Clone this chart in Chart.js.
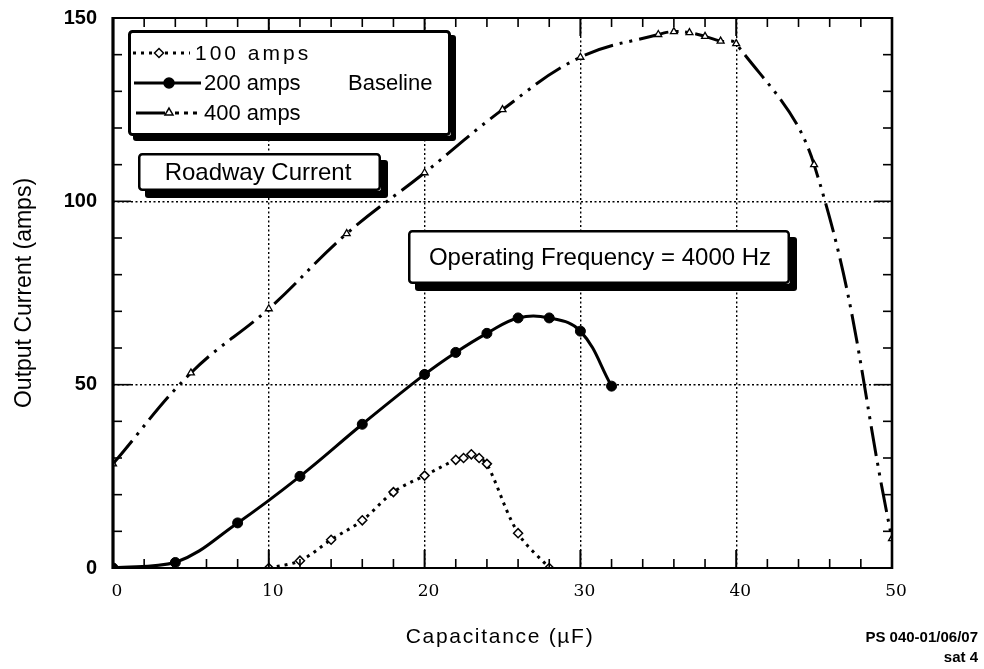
<!DOCTYPE html>
<html><head><meta charset="utf-8">
<script src="https://cdn.jsdelivr.net/npm/chart.js@4.4.1/dist/chart.umd.min.js"></script>
<style>html,body{margin:0;padding:0;background:#fff;}#wrap{width:984px;height:669px;position:relative;}</style>
</head><body><div id="wrap"><canvas id="c" width="984" height="669"></canvas></div>
<script>
// ---- data ----
const capacitance100 = [10, 12, 14, 16, 18, 20, 22, 22.5, 23, 23.5, 24, 26, 28];
const current100     = [0, 2, 7.7, 13, 20.7, 25.2, 29.5, 30, 31, 30, 28.4, 9.5, 0];
const capacitance200 = [0, 4, 8, 12, 16, 20, 22, 24, 26, 28, 30, 32];
const current200     = [0, 1.5, 12.3, 25, 39.2, 52.8, 58.8, 64, 68.2, 68.2, 64.6, 49.6];
const capacitance400 = [0, 5, 10, 15, 20, 25, 30, 35, 36, 37, 38, 39, 40, 45, 50];
const current400     = [28.4, 53.2, 70.7, 91.2, 107.8, 125, 139.3, 145.5, 146.3, 146, 145, 143.7, 143, 110, 8];
const seriesNames = ['100 amps', '200 amps', '400 amps'];
const xTickValues = [0, 10, 20, 30, 40, 50];
const yTickValues = [0, 50, 100, 150];
const xTitle = 'Capacitance (\u00b5F)';
const yTitle = 'Output Current (amps)';
const annotations = ['Roadway Current', 'Operating Frequency = 4000 Hz'];
const legendNote = 'Baseline';
const footnotes = ['PS 040-01/06/07', 'sat 4'];

const SANS = '"Liberation Sans", Arial, Helvetica, sans-serif';
const SERIF = '"DejaVu Serif", "Liberation Serif", serif';
const pts = (xs, ys) => xs.map((x, i) => ({x, y: ys[i]}));

const DASH100 = [3, 5];
const DASH400 = [30, 7, 3, 7, 3, 7];

function drawBox(ctx, x, y, w, h, shadow, border) {
  ctx.save();
  ctx.fillStyle = '#000';
  ctx.beginPath(); ctx.roundRect(x + shadow, y + shadow, w, h, 3); ctx.fill();
  ctx.fillStyle = '#fff';
  ctx.beginPath(); ctx.roundRect(x, y, w, h, 3); ctx.fill();
  ctx.lineWidth = border; ctx.strokeStyle = '#000';
  ctx.beginPath(); ctx.roundRect(x + border / 2, y + border / 2, w - border, h - border, 3); ctx.stroke();
  ctx.restore();
}
function line(ctx, x1, y1, x2, y2, w, dash) {
  ctx.save(); ctx.lineWidth = w; ctx.setLineDash(dash || []);
  ctx.beginPath(); ctx.moveTo(x1, y1); ctx.lineTo(x2, y2); ctx.stroke(); ctx.restore();
}
function marker(ctx, style, x, y, r, fill) {
  ctx.save();
  ctx.lineWidth = 1.5; ctx.strokeStyle = '#000'; ctx.fillStyle = fill; ctx.setLineDash([]);
  ctx.beginPath();
  if (style === 'circle') ctx.arc(x, y, r, 0, Math.PI * 2);
  else if (style === 'rectRot') { ctx.moveTo(x, y - r); ctx.lineTo(x + r, y); ctx.lineTo(x, y + r); ctx.lineTo(x - r, y); ctx.closePath(); }
  else { const h = r * 1.5; ctx.moveTo(x, y - h * 0.66); ctx.lineTo(x + r, y + h * 0.5); ctx.lineTo(x - r, y + h * 0.5); ctx.closePath(); }
  ctx.fill(); ctx.stroke(); ctx.restore();
}

const decor = {
  id: 'decor',
  afterDatasetsDraw(chart) {
    const {ctx, chartArea: {left, right, top, bottom}, scales: {x, y}} = chart;
    ctx.save();
    ctx.strokeStyle = '#000'; ctx.fillStyle = '#000';
    for (let v = 0; v <= 50; v += 2) {
      const px = x.getPixelForValue(v); const major = v % 10 === 0;
      const len = major ? 18 : 9, w = major ? 2 : 1.6;
      line(ctx, px, bottom, px, bottom - len, w);
      line(ctx, px, top, px, top + len, w);
    }
    for (let v = 0; v <= 150; v += 10) {
      const py = y.getPixelForValue(v); const major = v % 50 === 0;
      const len = major ? 18 : 9;
      line(ctx, left, py, left + len, py, 1.6);
      line(ctx, right, py, right - len, py, 1.6);
    }
    line(ctx, left, top - 1, left, bottom + 1, 3.2);
    line(ctx, left, bottom, right + 1, bottom, 2.2);
    line(ctx, right, top - 1, right, bottom + 1, 2.6);
    line(ctx, left, top, right + 1, top, 2);

    drawBox(ctx, 128, 30, 323, 106, 5, 3);
    const ds = chart.data.datasets;
    ctx.textBaseline = 'middle'; ctx.textAlign = 'left';
    line(ctx, 133, 53, 190, 53, 3, DASH100);
    marker(ctx, 'rectRot', 159, 53, 4.5, '#fff');
    ctx.font = '21px ' + SANS; ctx.letterSpacing = '3px';
    ctx.fillText(ds[0].label, 195, 54);
    ctx.letterSpacing = '0px';
    ctx.font = '22px ' + SANS;
    line(ctx, 134, 83, 201, 83, 3);
    marker(ctx, 'circle', 169, 83, 5, '#000');
    ctx.fillText(ds[1].label, 204, 84);
    ctx.fillText(legendNote, 348, 84);
    line(ctx, 136, 113, 165, 113, 3);
    marker(ctx, 'triangle', 169, 112, 4, '#fff');
    line(ctx, 175, 113, 202, 113, 3, [4, 5]);
    ctx.fillText(ds[2].label, 204, 114);

    drawBox(ctx, 138, 153, 243, 38, 7, 2.5);
    ctx.font = '24px ' + SANS; ctx.textAlign = 'center';
    ctx.fillText(annotations[0], 258, 173);
    drawBox(ctx, 408, 230, 382, 54, 7, 2.5);
    ctx.fillText(annotations[1], 600, 258);

    ctx.font = '21px ' + SANS; ctx.letterSpacing = '1.7px';
    ctx.fillText(xTitle, 500, 637);
    ctx.letterSpacing = '0px';
    ctx.font = 'bold 15px ' + SANS; ctx.textAlign = 'right';
    ctx.fillText(footnotes[0], 978, 638);
    ctx.fillText(footnotes[1], 978, 658);
    ctx.restore();
  }
};

new Chart(document.getElementById('c'), {
  type: 'scatter',
  data: {
    datasets: [
      { label: seriesNames[0], data: pts(capacitance100, current100), showLine: true,
        borderColor: '#000', borderWidth: 3, borderDash: DASH100, tension: 0.35,
        pointStyle: 'rectRot', pointRadius: 4.5, pointBackgroundColor: '#fff', pointBorderColor: '#000', pointBorderWidth: 1.5 },
      { label: seriesNames[1], data: pts(capacitance200, current200), showLine: true,
        borderColor: '#000', borderWidth: 3, tension: 0.4,
        pointStyle: 'circle', pointRadius: 5, pointBackgroundColor: '#000', pointBorderColor: '#000', pointBorderWidth: 1 },
      { label: seriesNames[2], data: pts(capacitance400, current400), showLine: true,
        borderColor: '#000', borderWidth: 3, borderDash: DASH400, tension: 0.4,
        pointStyle: 'triangle', pointRadius: 4, pointBackgroundColor: '#fff', pointBorderColor: '#000', pointBorderWidth: 1.3 }
    ]
  },
  options: {
    responsive: false, animation: false,
    events: [],
    layout: { padding: { top: 18, right: 92, left: 0, bottom: 0 } },
    plugins: { legend: { display: false }, tooltip: { enabled: false } },
    scales: {
      x: {
        type: 'linear', min: 0, max: 50,
        afterFit: s => { s.height = 101; s.paddingLeft = 0; s.paddingRight = 0; },
        afterBuildTicks: s => { s.ticks = xTickValues.map(v => ({value: v})); },
        ticks: { color: '#000', font: { family: SERIF, size: 17 }, padding: 13, labelOffset: 4, maxRotation: 0 },
        grid: { drawTicks: false, color: c => (c.tick && c.tick.value > 0 && c.tick.value < 50) ? '#000' : 'rgba(0,0,0,0)', lineWidth: 1.4 },
        border: { display: false, dash: [2, 2.5] }
      },
      y: {
        type: 'linear', min: 0, max: 150,
        afterFit: s => { s.width = 113; s.paddingTop = 0; s.paddingBottom = 0; },
        afterBuildTicks: s => { s.ticks = yTickValues.map(v => ({value: v})); },
        ticks: { color: '#000', font: { family: SANS, size: 20, weight: 'bold' }, padding: 16 },
        grid: { drawTicks: false, color: c => (c.tick && c.tick.value > 0 && c.tick.value < 150) ? '#000' : 'rgba(0,0,0,0)', lineWidth: 1.4 },
        border: { display: false, dash: [2, 2.5] },
        title: { display: true, text: yTitle, color: '#000', font: { family: SANS, size: 23 }, padding: { top: 11, bottom: 0 } }
      }
    }
  },
  plugins: [decor]
});
</script></body></html>
